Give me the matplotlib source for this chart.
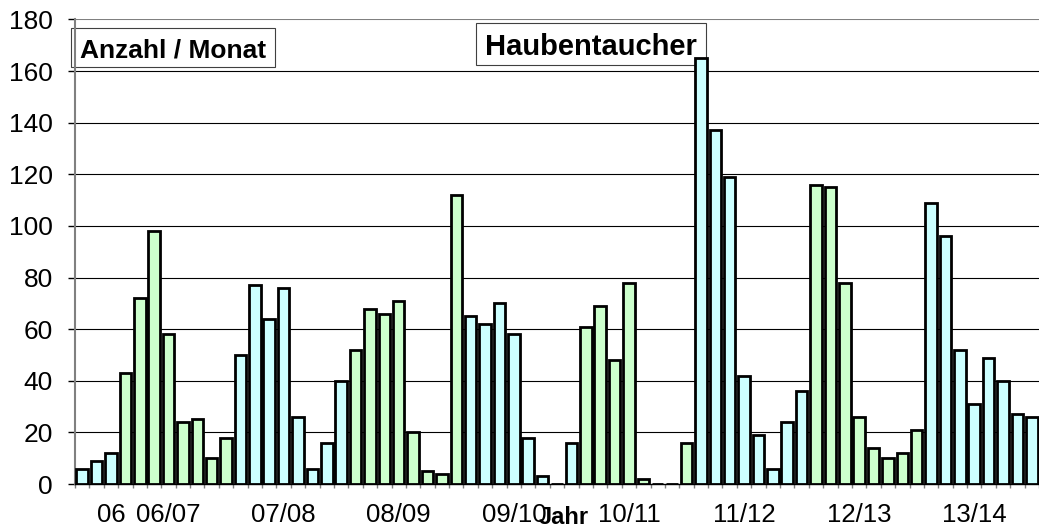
import matplotlib
matplotlib.use("Agg")
import matplotlib.pyplot as plt
from matplotlib.patches import Rectangle
import numpy as np

plt.rcParams['font.family'] = ['Liberation Sans', 'DejaVu Sans']

# ---- data ----
season_labels = ["06", "06/07", "07/08", "08/09", "09/10", "10/11", "11/12", "12/13", "13/14"]
season_counts = [3, 8, 8, 8, 8, 8, 8, 8, 8]
values = [6, 9, 12,
          43, 72, 98, 58, 24, 25, 10, 18,
          50, 77, 64, 76, 26, 6, 16, 40,
          52, 68, 66, 71, 20, 5, 4, 112,
          65, 62, 70, 58, 18, 3, 0, 16,
          61, 69, 48, 78, 2, 0, 0, 16,
          165, 137, 119, 42, 19, 6, 24, 36,
          116, 115, 78, 26, 14, 10, 12, 21,
          109, 96, 52, 31, 49, 40, 27, 26]
label_positions = [2, 6, 14, 22, 30, 38, 46, 54, 62]
y_ticks = list(range(0, 181, 20))

# ---- figure ----
W, H = 1039, 528
fig = plt.figure(figsize=(W / 100, H / 100), dpi=100)
ax_left, ax_right = 75, 1039
ax_bottom, ax_top = 484, 19.5
ax = fig.add_axes([ax_left / W, (H - ax_bottom) / H,
                   (ax_right - ax_left) / W, (ax_bottom - ax_top) / H])

cyan = '#CCFFFF'
green = '#CCFFCC'
colors = []
for i, c in enumerate(season_counts):
    colors += [cyan if i % 2 == 0 else green] * c

x = np.arange(len(values))
ax.bar(x, values, width=0.8, color=colors, edgecolor='black', linewidth=2.0, zorder=3)

pitch = 14.56
ax.set_xlim(-0.5, -0.5 + (ax_right - ax_left) / pitch)
ax.set_ylim(0, 180)

ax.set_yticks(y_ticks)
ax.set_yticklabels([str(v) for v in y_ticks])
for v in y_ticks[1:-1]:
    ax.axhline(v, color='black', linewidth=0.8, zorder=1)
ax.axhline(180, color='#808080', linewidth=1.5, zorder=1)

ax.set_xticks(label_positions)
ax.set_xticklabels(season_labels)
ax.set_xticks(np.arange(-0.5, len(values) + 0.5, 1), minor=True)
ax.tick_params(axis='x', which='major', length=0, pad=13.5, labelsize=18.5)
ax.tick_params(axis='x', which='minor', length=3, color='#808080', width=1)
ax.tick_params(axis='y', which='major', length=5, color='black', width=1, pad=11, labelsize=19)

for s in ['top', 'right']:
    ax.spines[s].set_visible(False)
ax.spines['left'].set_color('#808080')
ax.spines['left'].set_linewidth(1.5)
ax.spines['bottom'].set_color('black')
ax.spines['bottom'].set_linewidth(1)

# title boxes (behind the bars, above the grid)
def box(x0, y0, x1, y1, text, size):
    r = Rectangle((x0 / W, (H - y1) / H), (x1 - x0) / W, (y1 - y0) / H,
                  transform=fig.transFigure, facecolor='white',
                  edgecolor='#404040', linewidth=0.8, zorder=2, clip_on=False)
    ax.add_artist(r)
    ax.text((x0 + x1) / 2 / W, (H - (y0 + y1) / 2) / H, text, ha='center', va='center_baseline',
            fontsize=size, fontweight='bold', zorder=2.5, transform=fig.transFigure, clip_on=False)

box(71, 28, 275, 67, "Anzahl / Monat", 19)
box(476, 23, 706, 65, "Haubentaucher", 21)

fig.text(564 / W, 4 / H, "Jahr", ha='center', va='baseline', fontsize=17, fontweight='bold')

fig.savefig("out.png", dpi=100)
